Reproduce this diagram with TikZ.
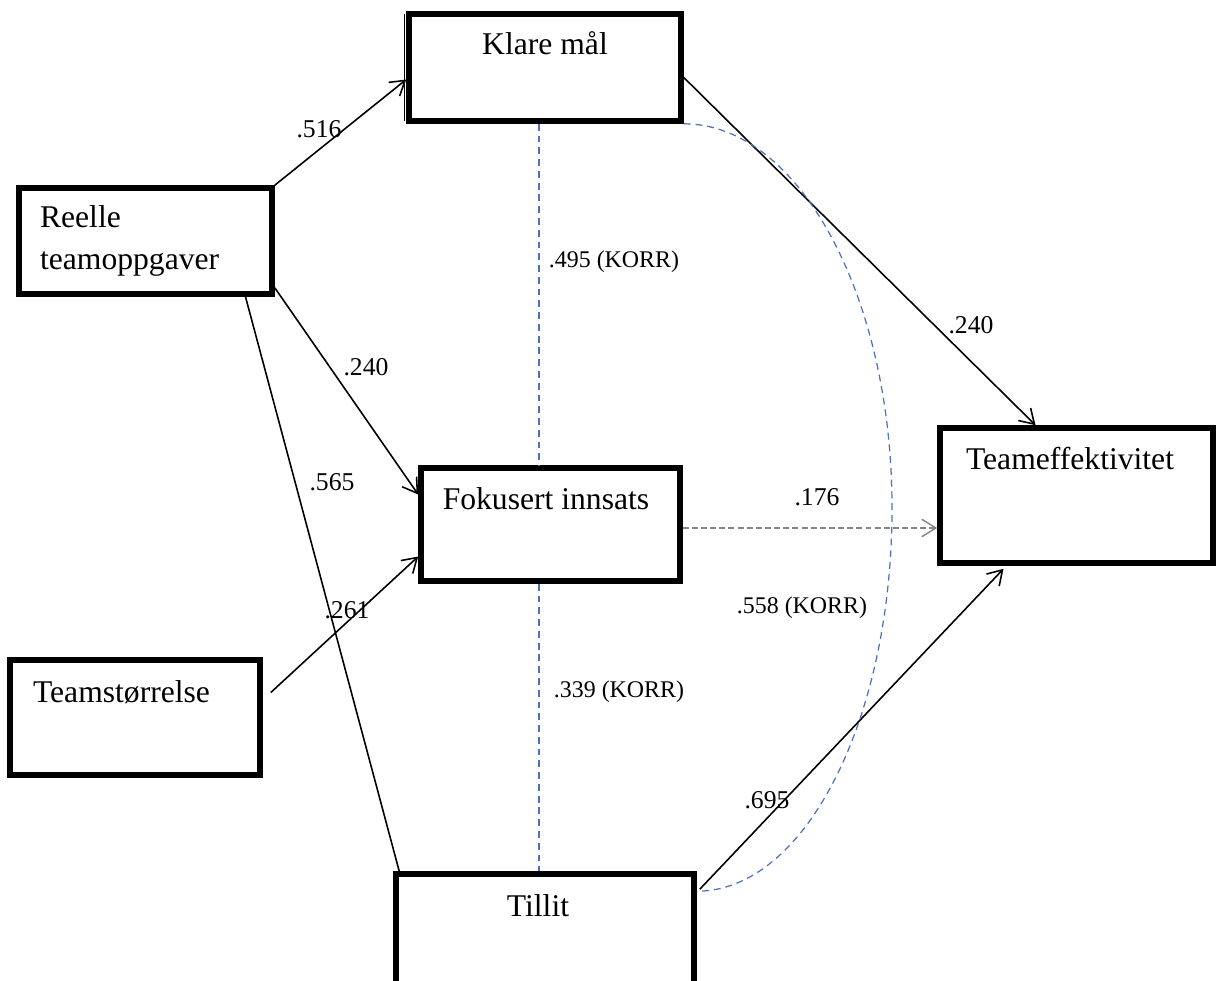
\documentclass[tikz,border=0pt]{standalone}
\usepackage{fontspec}
\setmainfont{Liberation Serif}
\usetikzlibrary{arrows.meta,positioning,calc}
\definecolor{korrblue}{RGB}{79,112,191}
\definecolor{trendgray}{RGB}{125,135,140}

\begin{document}
\begin{tikzpicture}[x=0.02cm,y=-0.02cm,
  konstrukt/.style={draw,line width=3.2pt,inner sep=0pt},
  boxtekst/.style={font=\fontsize{18}{23.8}\selectfont,inner sep=0pt},
  sti/.style={line width=0.9pt,-{Straight Barb[length=8pt,width=10pt]}},
  trend/.style={trendgray,line width=0.8pt,dash pattern=on 3.4pt off 1.8pt,
    -{Straight Barb[length=8pt,width=10pt]}},
  korr/.style={korrblue,line width=0.7pt,dash pattern=on 3.9pt off 2.8pt},
  koeff/.style={font=\fontsize{14.6}{17}\selectfont,inner sep=0pt,anchor=base},
  korrtekst/.style={font=\fontsize{13.6}{16}\selectfont,inner sep=0pt,anchor=base}]
\useasboundingbox (0,0) rectangle (1219,980);

% boxes
\node[konstrukt,minimum width=5.44cm,minimum height=2.14cm,
  label={[boxtekst,anchor=base,yshift=-0.87cm]north:Klare mål}] (klare) at (545,67.5) {};
\draw[line width=0.8pt] ($(klare.north west)+(-2,3)$) -- ($(klare.south west)+(-2,-3)$);
\node[konstrukt,minimum width=5.06cm,minimum height=2.12cm,
  label={[boxtekst,align=left,anchor=base west,xshift=0.47cm,yshift=-1.69cm]north west:{Reelle\\teamoppgaver}}] (reelle) at (145.5,241) {};
\node[konstrukt,minimum width=5.18cm,minimum height=2.26cm,
  label={[boxtekst,anchor=base,xshift=-0.09cm,yshift=-0.89cm]north:Fokusert innsats}] (fokusert) at (550.5,524.5) {};
\node[konstrukt,minimum width=5.0cm,minimum height=2.3cm,
  label={[boxtekst,anchor=base west,xshift=0.51cm,yshift=-0.91cm]north west:Teamstørrelse}] (storrelse) at (135,717.5) {};
\node[konstrukt,minimum width=5.96cm,minimum height=2.8cm,
  label={[boxtekst,anchor=base,xshift=-0.14cm,yshift=-0.91cm]north:Tillit}] (tillit) at (545,944) {};
\node[konstrukt,minimum width=5.46cm,minimum height=2.7cm,
  label={[boxtekst,anchor=base,xshift=-0.13cm,yshift=-0.89cm]north:Teameffektivitet}] (teameff) at (1076.5,495.5) {};

% paths
\draw[sti] (reelle.north east) -- ($(klare.west)+(0,12)$);
\draw[sti] ($(reelle.south east)+(0,-9)$) -- ($(fokusert.west)+(0,-30)$);
\draw[line width=0.9pt] ($(reelle.south)+(100,0)$) -- ($(tillit.north west)+(6,0)$);
\draw[sti] ($(storrelse.east)+(8,-25)$) -- ($(fokusert.west)+(0,32)$);
\draw[sti] ($(klare.east)+(0,10)$) -- ($(teameff.north)+(-41,0)$);
\draw[trend] ($(fokusert.east)+(0,3.5)$) -- ($(teameff.west)+(0,32.5)$);
\draw[sti] ($(tillit.north east)+(3,18)$) -- ($(teameff.south)+(-73,3)$);

% correlations
\coordinate (korrx) at (539,0);
\coordinate (korrmax) at (892,508);
\draw[korr] (klare.south -| korrx) -- (fokusert.north -| korrx);
\draw[korr] (fokusert.south -| korrx) -- (tillit.north -| korrx);
\draw[korr] (klare.south east) .. controls ($(klare.south east)+(115,0)$) and (892,296) .. (korrmax)
  .. controls (892,720) and ($(tillit.north east)+(108,20)$) .. ($(tillit.north east)+(0,20)$);

% coefficients
\node[koeff] (k516) at (319,137) {.516};
\node[koeff] (k240a) at (366,375) {.240};
\node[koeff] (k565) at (332,490) {.565};
\node[koeff] (k261) at (347,618) {.261};
\node[koeff] (k240b) at (971,333) {.240};
\node[koeff] (k176) at (817,505) {.176};
\node[koeff] (k695) at (767,808) {.695};
\node[korrtekst] (k495) at (614,267) {.495 (KORR)};
\node[korrtekst] (k339) at (619,697) {.339 (KORR)};
\node[korrtekst] (k558) at (802,613) {.558 (KORR)};
\end{tikzpicture}
\end{document}
